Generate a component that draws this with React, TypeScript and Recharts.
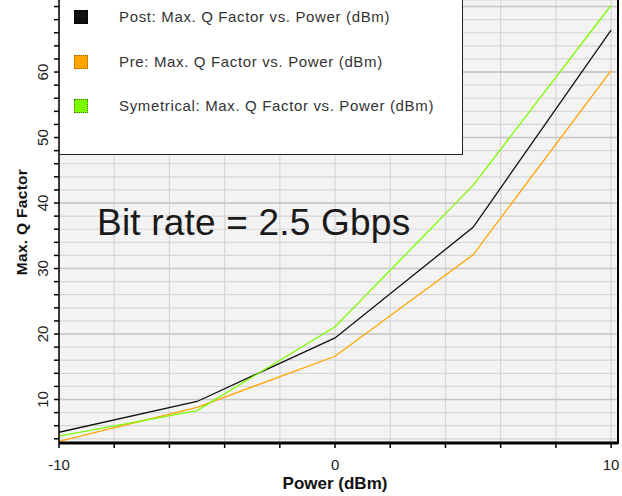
import React from 'react';
import { LineChart, Line, XAxis, YAxis, CartesianGrid, ReferenceLine } from 'recharts';

const powers = [-10, -5, 0, 5, 10];
const postQ = [5.0, 9.7, 19.4, 36.3, 66.4];
const preQ = [3.6, 8.8, 16.6, 32.1, 60.2];
const symQ = [4.4, 8.3, 21.1, 42.7, 70.2];

const xTicks = [-10, -8, -6, -4, -2, 0, 2, 4, 6, 8, 10];
const xLabels = [-10, 0, 10];
const yTicks = [4, 6, 8, 10, 12, 14, 16, 18, 20, 22, 24, 26, 28, 30, 32, 34, 36, 38, 40, 42, 44, 46, 48, 50, 52, 54, 56, 58, 60, 62, 64, 66, 68, 70];
const yLabels = [10, 20, 30, 40, 50, 60];
const yMajor = [10, 20, 30, 40, 50, 60, 70];

const legendNames = [
  'Post: Max. Q Factor vs. Power (dBm)',
  'Pre: Max. Q Factor vs. Power (dBm)',
  'Symetrical: Max. Q Factor vs. Power (dBm)',
];
const seriesColors = ['#111111', '#FFA500', '#7CFC00'];
const legendBorders = ['#000000', '#a06000', '#3a7a00'];
const annotation = 'Bit rate = 2.5 Gbps';
const xTitle = 'Power (dBm)';
const yTitle = 'Max. Q Factor';

const data = powers.map((p, i) => ({ power: p, post: postQ[i], pre: preQ[i], sym: symQ[i] }));

const FONT = '"Liberation Sans", Arial, sans-serif';

const XTick = (props: any) => {
  const { x, payload } = props;
  if (!xLabels.includes(payload.value)) return <g />;
  return (
    <text x={x} y={469.5} textAnchor="middle" fontSize={15} fill="#222" fontFamily={FONT}>
      {payload.value}
    </text>
  );
};

const YTick = (props: any) => {
  const { y, payload } = props;
  if (!yLabels.includes(payload.value)) return <g />;
  return (
    <text
      x={48}
      y={y}
      textAnchor="middle"
      fontSize={15}
      fill="#222"
      fontFamily={FONT}
      transform={`rotate(-90, 48, ${y})`}
    >
      {payload.value}
    </text>
  );
};

export default function App() {
  return (
    <div style={{ position: 'absolute', left: 0, top: 0, width: 622, height: 496, background: '#fff', overflow: 'hidden' }}>
      <LineChart width={622} height={496} data={data} margin={{ top: 0, right: 4, bottom: 0, left: 0 }}>
        <CartesianGrid stroke="#d6d6d6" fill="#f3f3f3" strokeWidth={1.2} />
        {yMajor.map((v) => (
          <ReferenceLine key={v} y={v} stroke="#c6c6c6" strokeWidth={1.6} />
        ))}
        <XAxis
          dataKey="power"
          type="number"
          domain={[-10, 10.25]}
          ticks={xTicks}
          interval={0}
          allowDataOverflow
          height={53}
          tickSize={5}
          tick={XTick}
          tickLine={{ stroke: '#000', strokeWidth: 1.5 }}
          axisLine={{ stroke: '#000', strokeWidth: 3 }}
        />
        <YAxis
          type="number"
          domain={[3.36, 71]}
          ticks={yTicks}
          interval={0}
          allowDataOverflow
          width={59}
          tickSize={5}
          tick={YTick}
          tickLine={{ stroke: '#000', strokeWidth: 1.5 }}
          axisLine={{ stroke: '#000', strokeWidth: 1.5 }}
        />
        <Line type="linear" dataKey="pre" stroke={seriesColors[1]} strokeWidth={1.3} dot={false} isAnimationActive={false} />
        <Line type="linear" dataKey="post" stroke={seriesColors[0]} strokeWidth={1.3} dot={false} isAnimationActive={false} />
        <Line type="linear" dataKey="sym" stroke={seriesColors[2]} strokeWidth={1.3} dot={false} isAnimationActive={false} />
      </LineChart>

      {/* right frame */}
      <div style={{ position: 'absolute', left: 617, top: 0, width: 2, height: 444, background: '#000' }} />

      {/* axis titles */}
      <div
        style={{
          position: 'absolute', left: 0, top: 474, width: 670, textAlign: 'center',
          fontFamily: FONT, fontWeight: 'bold', fontSize: 17, color: '#111', lineHeight: '20px',
        }}
      >
        {xTitle}
      </div>
      <div
        style={{
          position: 'absolute', left: 22, top: 222, width: 0, height: 0,
        }}
      >
        <div
          style={{
            position: 'absolute', left: -100, top: -10, width: 200, height: 20, textAlign: 'center',
            transform: 'rotate(-90deg)', fontFamily: FONT, fontWeight: 'bold', fontSize: 15.5,
            color: '#111', lineHeight: '20px', whiteSpace: 'nowrap', letterSpacing: 0.3,
          }}
        >
          {yTitle}
        </div>
      </div>

      {/* legend box */}
      <div
        style={{
          position: 'absolute', left: 60, top: -2, width: 402, height: 156, background: '#fff',
          borderRight: '1.5px solid #222', borderBottom: '1.5px solid #222',
        }}
      >
        {legendNames.map((name, i) => (
          <div key={name} style={{ position: 'absolute', left: 0, top: 12 + i * 44.5, height: 16, width: 400 }}>
            <div
              style={{
                position: 'absolute', left: 14, top: 0, width: 14, height: 14, boxSizing: 'border-box',
                background: seriesColors[i], border: `1px dotted ${legendBorders[i]}`,
              }}
            />
            <div
              style={{
                position: 'absolute', left: 59, top: -2, fontFamily: FONT, fontSize: 15, color: '#333',
                letterSpacing: 0.65, whiteSpace: 'nowrap', lineHeight: '18px',
              }}
            >
              {name}
            </div>
          </div>
        ))}
      </div>

      {/* annotation */}
      <div
        style={{
          position: 'absolute', left: 97, top: 201, fontFamily: FONT, fontSize: 37, color: '#1a1a1a',
          whiteSpace: 'nowrap', lineHeight: '44px', letterSpacing: 0.2,
        }}
      >
        {annotation}
      </div>
    </div>
  );
}
